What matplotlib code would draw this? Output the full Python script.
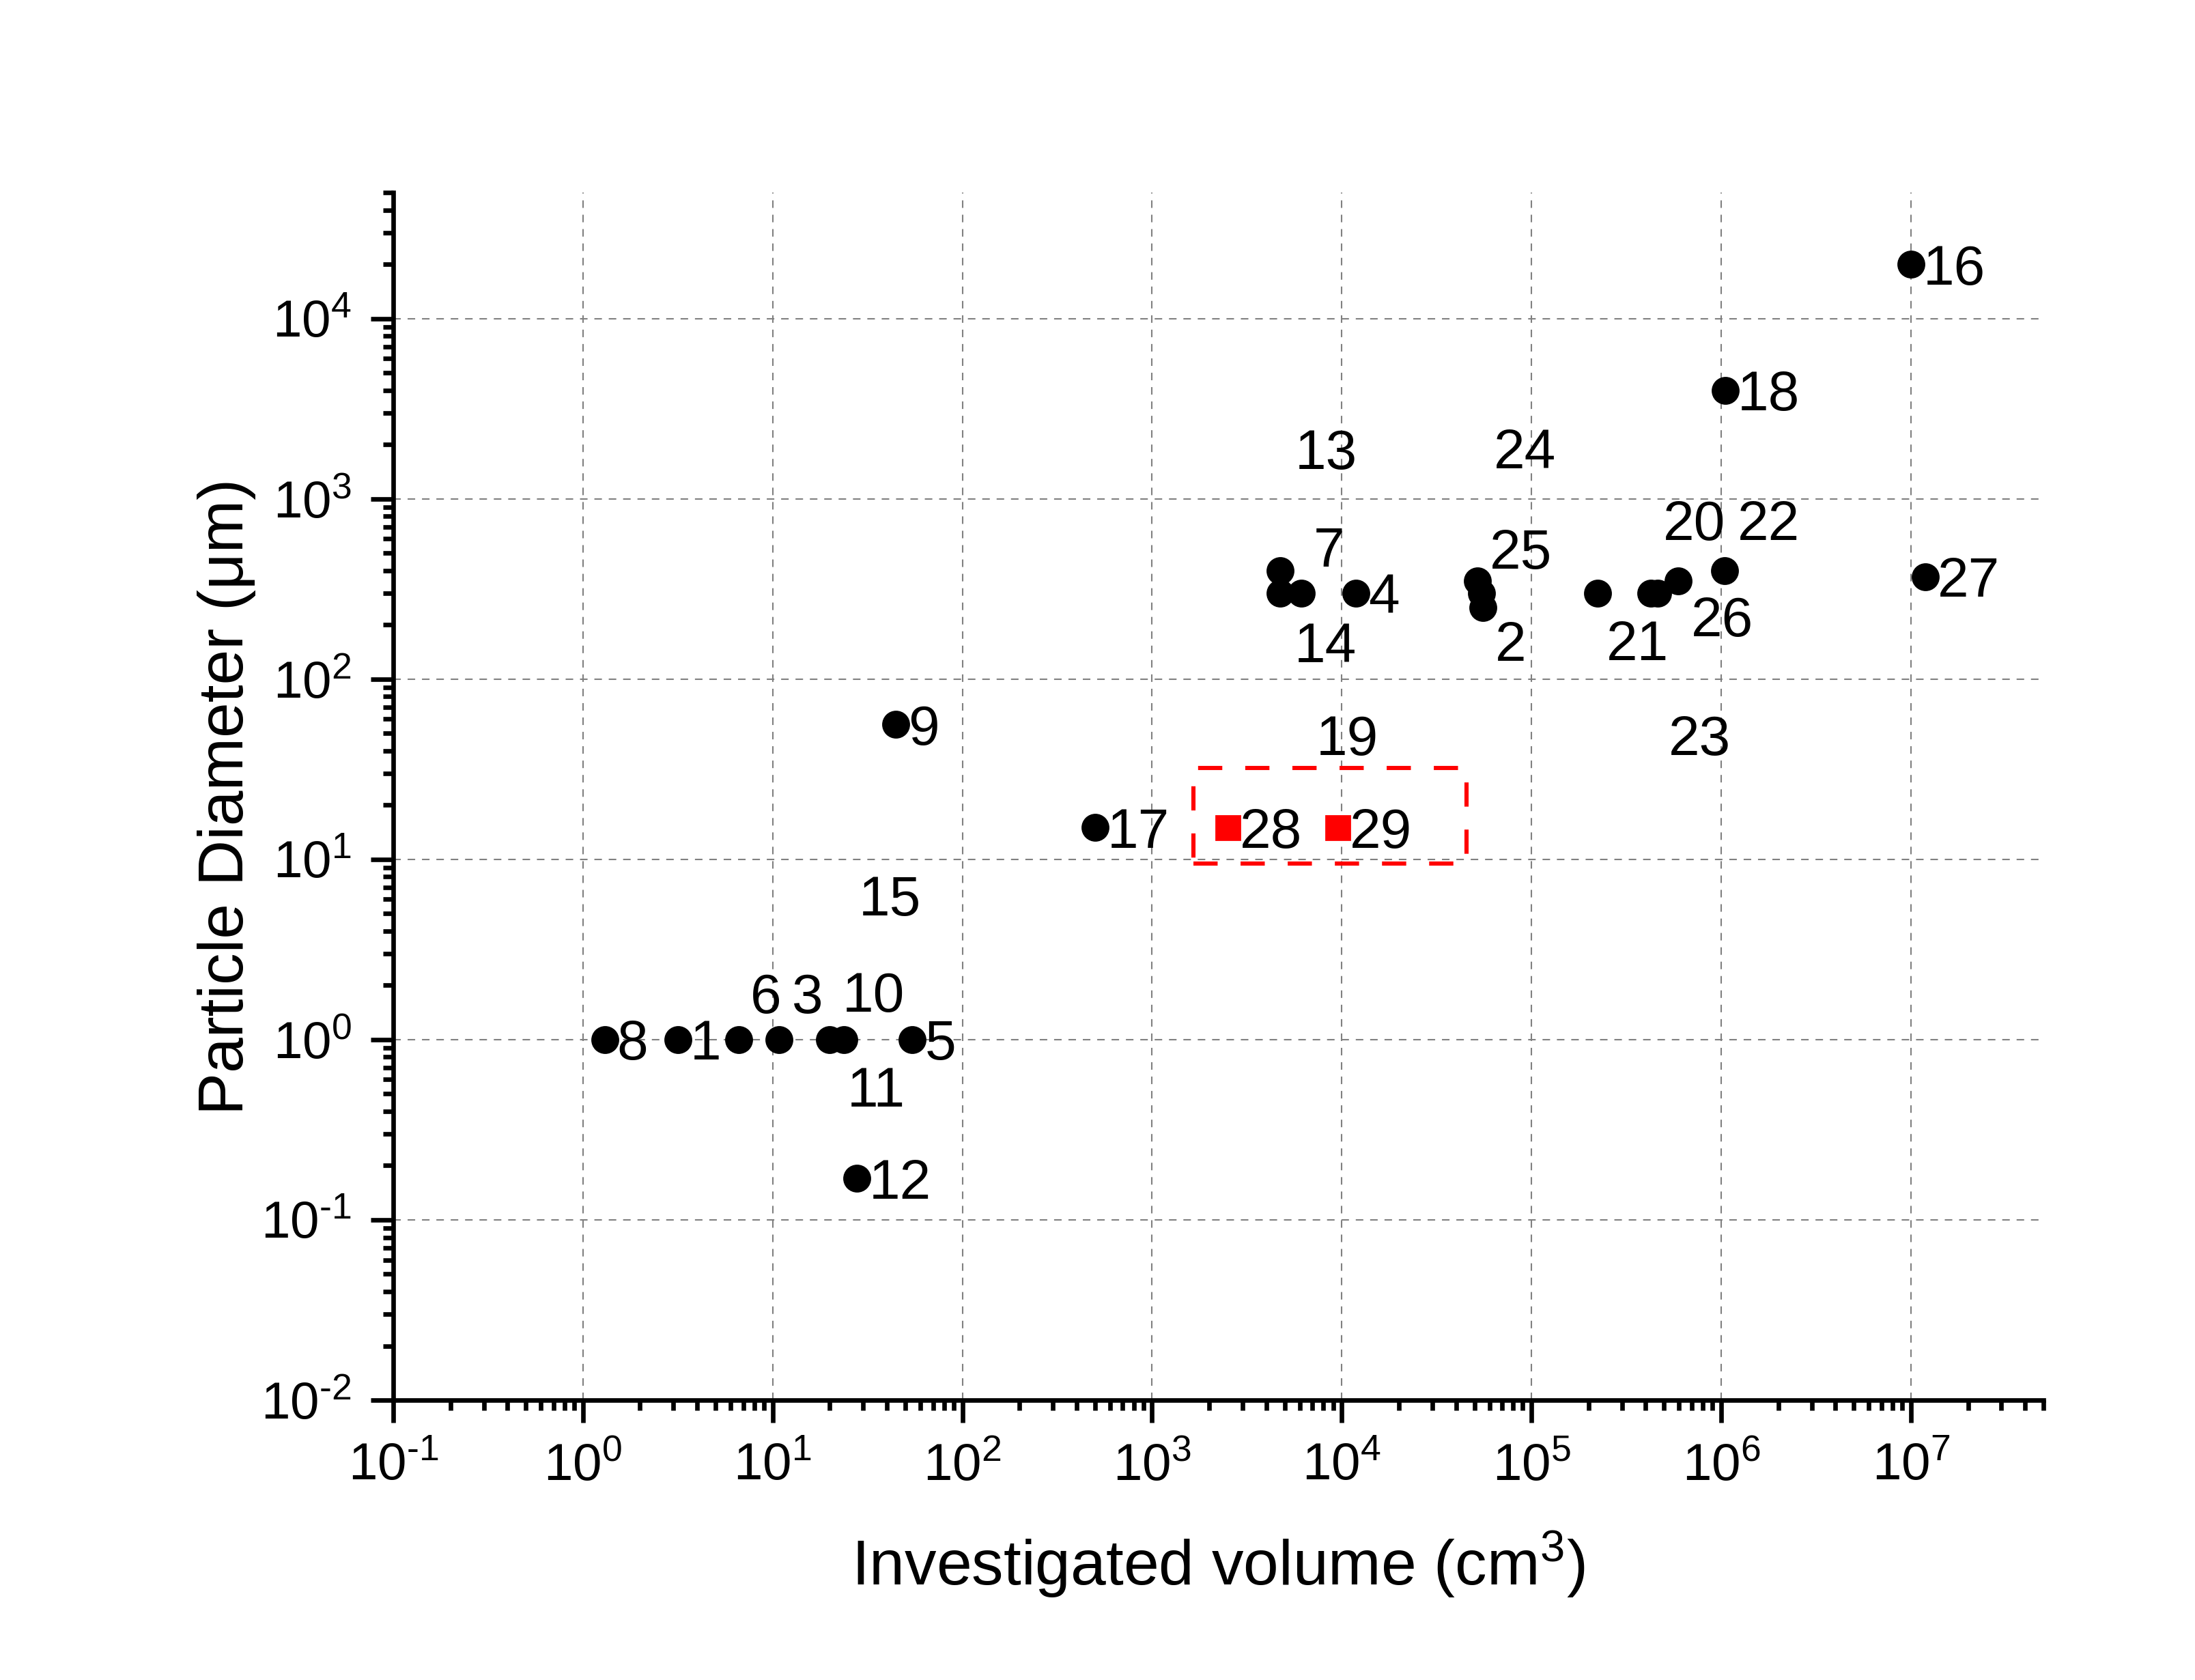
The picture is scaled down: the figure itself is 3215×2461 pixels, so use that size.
import numpy as np
import matplotlib
matplotlib.use('Agg')
import matplotlib.pyplot as plt
from matplotlib.ticker import LogLocator, NullFormatter, FuncFormatter
from matplotlib.patches import Rectangle

plt.rcParams['font.family'] = ['Liberation Sans', 'DejaVu Sans']
plt.rcParams['mathtext.fontset'] = 'custom'
plt.rcParams['mathtext.rm'] = 'Liberation Sans'
plt.rcParams['mathtext.default'] = 'regular'

# literature data: investigated volume (cm^3) and particle diameter (um)
volume = [1.3, 3.17, 6.6, 10.8, 19.9, 23.8, 54.5, 27.7, 44.7, 500,
          4750, 4750, 6100, 11900, 52000, 54500, 55400,
          223000, 426000, 462000, 594000, 1.04e6, 1.05e6, 1.0e7, 1.19e7]
diameter = [1, 1, 1, 1, 1, 1, 1, 0.17, 56, 15,
            400, 300, 300, 300, 350, 300, 250,
            300, 300, 300, 350, 400, 4000, 2e4, 370]

# this work (red squares)
new_volume = [2500, 9500]
new_diameter = [15, 15]
new_text = ['28', '29']

# highlighted range of this work
box_volume = [1650, 45500]
box_diameter = [9.5, 32]

# reference numbers and the point each one belongs to
label_text = ['8', '1', '6', '3', '11', '10', '5', '12', '9', '15', '17',
              '7', '14', '13', '19', '4', '25', '24', '2',
              '21', '23', '26', '20', '22', '18', '16', '27']
label_point = [0, 1, 2, 3, 4, 5, 6, 7, 8, 8, 9,
               10, 11, 12, 12, 13, 14, 15, 16,
               17, 19, 20, 21, 21, 22, 23, 24]

# label placement (offset in points from the point, None = just right of it)
label_offset = [None, None, (14.4, 24.5), (15.1, 24.5), (24.8, -24.8), (15.5, 25.2),
                None, None, None, (-3.2, -90), None,
                (25.6, 12.6), (23.8, -25.9), (13.3, 76), (24.5, -74.9), None,
                (22.7, 17.3), (23, 76.3), (14.8, -17.6),
                (20.9, -24.8), (22.3, -74.9), (23, -18.4), (-15.8, 26.6), (23.4, 26.6),
                None, None, None]


def decade_label(val, pos):
    # Origin style: 10 with a short hyphen in the exponent
    e = int(round(np.log10(val)))
    if e < 0:
        return r'$10^{\text{-}%d}$' % (-e)
    return r'$10^{%d}$' % e


fig = plt.figure(figsize=(16.08, 12.305), dpi=200)
ax = fig.add_axes([0.1791, 0.1666, 0.7516, 0.7188])

ax.set_xscale('log')
ax.set_yscale('log')
ax.set_xlim(0.1, 5e7)
ax.set_ylim(0.01, 5e4)

ax.plot(volume, diameter, 'o', color='black', markersize=13.7, zorder=3)
ax.plot(new_volume, new_diameter, 's', color='red', markersize=12.6, zorder=3)

box = Rectangle((box_volume[0], box_diameter[0]),
                box_volume[1] - box_volume[0], box_diameter[1] - box_diameter[0],
                fill=False, edgecolor='red', linewidth=2.2,
                linestyle=(0, (5.8, 5.5)), zorder=2)
ax.add_patch(box)

for txt, i, off in zip(label_text, label_point, label_offset):
    if off is None:
        ax.annotate(txt, (volume[i], diameter[i]), xytext=(6.5, 0),
                    textcoords='offset points', ha='left', va='center_baseline',
                    fontsize=29.5)
    else:
        ax.annotate(txt, (volume[i], diameter[i]), xytext=off,
                    textcoords='offset points', ha='center', va='center_baseline',
                    fontsize=29.5)

for txt, x, y in zip(new_text, new_volume, new_diameter):
    ax.annotate(txt, (x, y), xytext=(6.5, 0), textcoords='offset points',
                ha='left', va='center_baseline', fontsize=29.5)

# axes styling
for side in ['top', 'right']:
    ax.spines[side].set_visible(False)
for side in ['left', 'bottom']:
    ax.spines[side].set_linewidth(2.4)

for axis in [ax.xaxis, ax.yaxis]:
    axis.set_major_locator(LogLocator(base=10, numticks=30))
    axis.set_major_formatter(FuncFormatter(decade_label))
    axis.set_minor_locator(LogLocator(base=10, subs=np.arange(2, 10), numticks=30))
    axis.set_minor_formatter(NullFormatter())

ax.tick_params(which='major', direction='out', length=12, width=2.4, labelsize=27.5)
ax.tick_params(which='minor', direction='out', length=5.5, width=2.4)
ax.tick_params(axis='x', which='major', pad=10.5)
ax.tick_params(axis='y', which='major', pad=10)

ax.grid(True, which='major', color='#808080', linestyle=(0, (5.3, 4.8)), linewidth=0.75)
ax.set_axisbelow(True)

ax.set_xlabel('Investigated volume (cm$^3$)', fontsize=33.5, labelpad=20)
ax.set_ylabel('Particle Diameter (μm)', fontsize=33.5, labelpad=2.5)

fig.savefig('out.png', dpi=200)
